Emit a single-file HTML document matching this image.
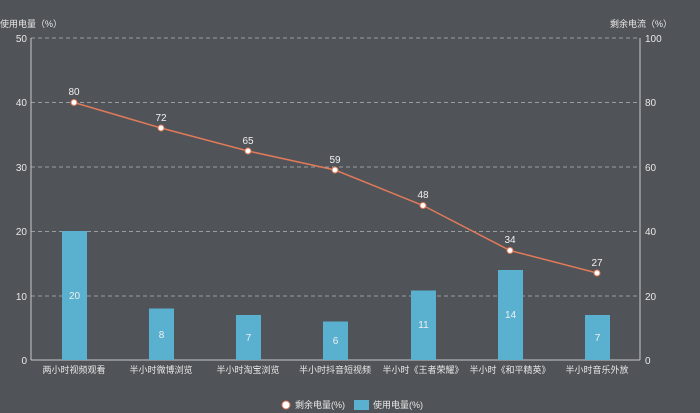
<!DOCTYPE html>
<html><head><meta charset="utf-8"><style>
html,body{margin:0;padding:0;background:#505357;}
svg{display:block;font-family:"Liberation Sans","Noto Sans CJK SC",sans-serif;}
</style></head><body>
<svg width="700" height="413" viewBox="0 0 700 413">
<rect width="700" height="413" fill="#505357"/>
<g stroke="#9a9da0" stroke-dasharray="4,3" stroke-width="1">
<line x1="31" y1="38" x2="640" y2="38"/>
<line x1="31" y1="102.5" x2="640" y2="102.5"/>
<line x1="31" y1="167" x2="640" y2="167"/>
<line x1="31" y1="231.5" x2="640" y2="231.5"/>
<line x1="31" y1="296" x2="640" y2="296"/>
</g>
<g stroke="#c8cacc" stroke-width="1">
<line x1="31" y1="38" x2="31" y2="360"/>
<line x1="640" y1="38" x2="640" y2="360"/>
<line x1="31" y1="360" x2="640" y2="360"/>
</g>
<g font-size="10" fill="#e8e8e8" text-anchor="end">
<text x="27" y="42">50</text><text x="27" y="106">40</text><text x="27" y="171">30</text><text x="27" y="235">20</text><text x="27" y="300">10</text><text x="27" y="364">0</text>
</g>
<g font-size="10" fill="#e8e8e8" text-anchor="start">
<text x="645" y="42">100</text><text x="645" y="106">80</text><text x="645" y="171">60</text><text x="645" y="235">40</text><text x="645" y="300">20</text><text x="645" y="364">0</text>
</g>
<text x="0" y="27" font-size="9" fill="#e8e8e8">使用电量（%）</text>
<text x="672" y="27" font-size="9" fill="#e8e8e8" text-anchor="end">剩余电流（%）</text>
<g fill="#5ab1cf">
<rect x="62" y="231" width="25" height="129"/>
<rect x="149" y="308.5" width="25" height="51.5"/>
<rect x="236" y="315" width="25" height="45"/>
<rect x="323" y="321.5" width="25" height="38.5"/>
<rect x="411" y="290.5" width="25" height="69.5"/>
<rect x="498" y="270" width="25" height="90"/>
<rect x="585" y="315" width="25" height="45"/>
</g>
<g font-size="10" fill="#f0f0f0" text-anchor="middle">
<text x="74.5" y="299">20</text><text x="161.5" y="338">8</text><text x="248.5" y="341">7</text><text x="335.5" y="344">6</text><text x="423.5" y="328">11</text><text x="510.5" y="318">14</text><text x="597.5" y="341">7</text>
</g>
<polyline fill="none" stroke="#e07a5a" stroke-width="1.5" points="74,102.5 161,128 248,151 335,170 423,205.5 510,250.5 597,273"/>
<g fill="#fff" stroke="#e07a5a" stroke-width="1">
<circle cx="74" cy="102.5" r="3"/><circle cx="161" cy="128" r="3"/><circle cx="248" cy="151" r="3"/><circle cx="335" cy="170" r="3"/><circle cx="423" cy="205.5" r="3"/><circle cx="510" cy="250.5" r="3"/><circle cx="597" cy="273" r="3"/>
</g>
<g font-size="10" fill="#f0f0f0" text-anchor="middle">
<text x="74" y="95">80</text><text x="161" y="121">72</text><text x="248" y="144">65</text><text x="335" y="163">59</text><text x="423" y="198">48</text><text x="510" y="243">34</text><text x="597" y="266">27</text>
</g>
<g font-size="9" fill="#e8e8e8" text-anchor="middle">
<text x="74" y="373">两小时视频观看</text><text x="161" y="373">半小时微博浏览</text><text x="248" y="373">半小时淘宝浏览</text><text x="335" y="373">半小时抖音短视频</text><text x="423" y="373">半小时《王者荣耀》</text><text x="510" y="373">半小时《和平精英》</text><text x="597" y="373">半小时音乐外放</text>
</g>
<circle cx="286" cy="405" r="4" fill="#fff" stroke="#e07a5a"/>
<text x="295" y="408" font-size="9" fill="#e8e8e8">剩余电量(%)</text>
<rect x="354" y="400" width="15" height="10" fill="#5ab1cf"/>
<text x="373" y="408" font-size="9" fill="#e8e8e8">使用电量(%)</text>
</svg>
</body></html>
